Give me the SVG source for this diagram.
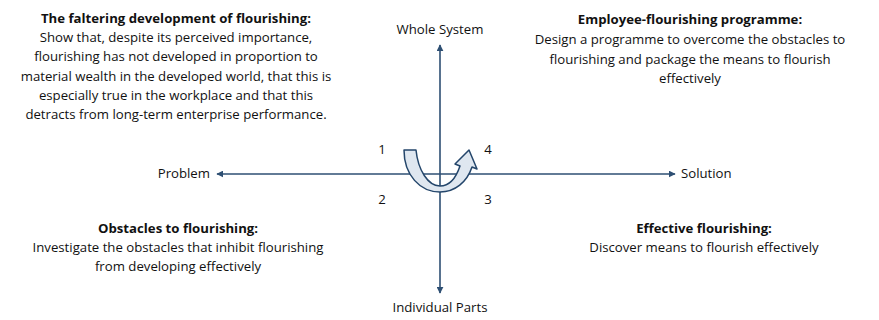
<svg xmlns="http://www.w3.org/2000/svg" width="879" height="320" viewBox="0 0 879 320">
<style>
text{font-family:"Open Sans","Liberation Sans",sans-serif;font-size:13.2px;fill:#111;text-anchor:middle}
.b{font-weight:bold}
.axis{stroke:#2e4f73;stroke-width:1.6;fill:none}
</style>
<defs>
<marker id="ah" viewBox="0 0 10 10" refX="9" refY="5" markerWidth="7" markerHeight="7" orient="auto-start-reverse" markerUnits="userSpaceOnUse">
<path d="M0,0 L10,5 L0,10 Z" fill="#2e4f73"/>
</marker>
</defs>
<rect width="879" height="320" fill="#fff"/>
<g id="connectors">
<line class="axis" x1="217" y1="174" x2="675" y2="174" marker-start="url(#ah)" marker-end="url(#ah)"/>
<line class="axis" x1="440" y1="45" x2="440" y2="293" marker-start="url(#ah)" marker-end="url(#ah)"/>
<path id="cycle" d="M404,150 L416,150 C418,170 428,186 440,186 C449,186 456,178 460,166 L455,164 L469,150 L477,169 L472,167 C467,182 455,192 440,192 C420,192 404,175 404,150 Z" fill="#dfe7f0" stroke="#24466b" stroke-width="1.5" stroke-linejoin="round"/>
</g>
<g id="top-left">
<text class="b" x="176" y="23">The faltering development of flourishing:</text>
<text x="176" y="42">Show that, despite its perceived importance,</text>
<text x="176" y="61">flourishing has not developed in proportion to</text>
<text x="176" y="81">material wealth in the developed world, that this is</text>
<text x="176" y="100">especially true in the workplace and that this</text>
<text x="176" y="119">detracts from long-term enterprise performance.</text>
</g>
<g id="top-right">
<text class="b" x="690" y="24">Employee-flourishing programme:</text>
<text x="690" y="44">Design a programme to overcome the obstacles to</text>
<text x="690" y="64">flourishing and package the means to flourish</text>
<text x="690" y="83">effectively</text>
</g>
<g id="bottom-left">
<text class="b" x="178" y="233">Obstacles to flourishing:</text>
<text x="178" y="252">Investigate the obstacles that inhibit flourishing</text>
<text x="178" y="271">from developing effectively</text>
</g>
<g id="bottom-right">
<text class="b" x="704" y="233">Effective flourishing:</text>
<text x="704" y="252">Discover means to flourish effectively</text>
</g>
<g id="axis-labels">
<text x="440" y="34">Whole System</text>
<text x="440" y="312">Individual Parts</text>
<text x="210" y="178" style="text-anchor:end">Problem</text>
<text x="681" y="178" style="text-anchor:start">Solution</text>
</g>
<g id="quadrants">
<text x="382" y="154">1</text>
<text x="488" y="154">4</text>
<text x="382" y="204">2</text>
<text x="488" y="204">3</text>
</g>
</svg>
